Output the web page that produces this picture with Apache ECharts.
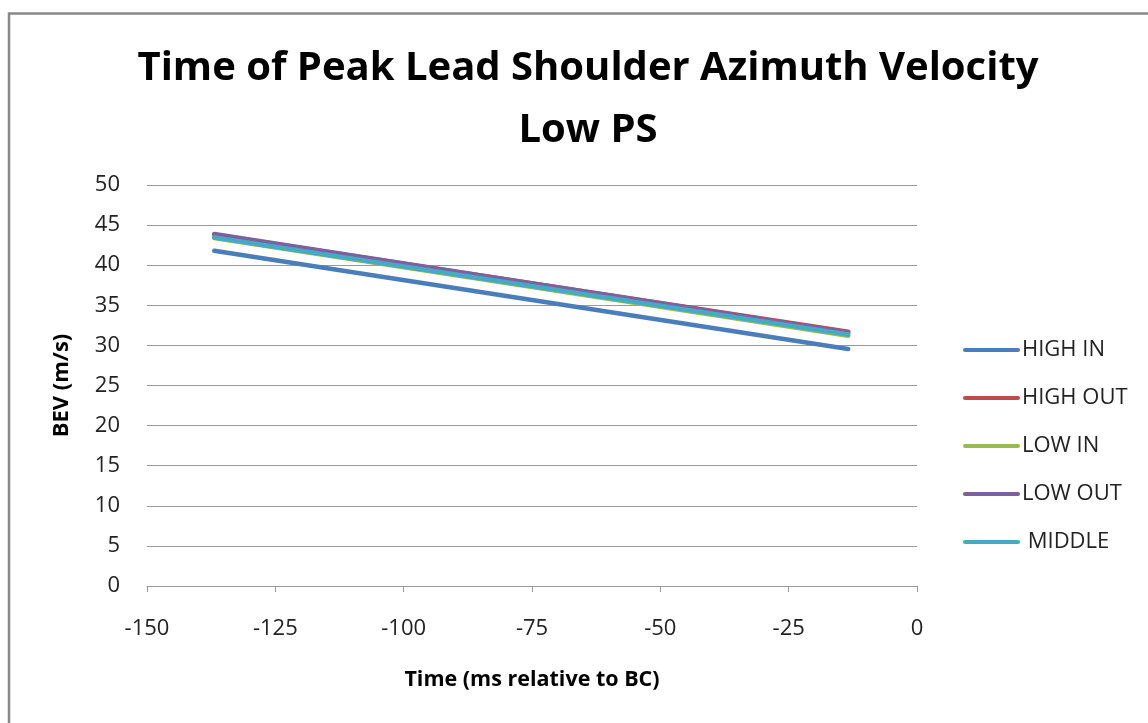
<!DOCTYPE html>
<html><head><meta charset="utf-8">
<script src="https://cdn.jsdelivr.net/npm/echarts@6/dist/echarts.min.js"></script>
<style>html,body{margin:0;padding:0;background:#fff}#c{width:1148px;height:723px}</style>
</head><body><div id="c"></div>
<script>
const seriesNames = ['HIGH IN', 'HIGH OUT', 'LOW IN', 'LOW OUT', 'MIDDLE'];
const timeValues = [-136.9, -13.4];
const highIn = [41.8, 29.55];
const highOut = [43.8, 31.7];
const lowIn = [43.4, 31.2];
const lowOut = [43.9, 31.6];
const middle = [43.45, 31.35];
const colors = ['#4A7EBB', '#BE4B48', '#98B954', '#7D60A0', '#46AAC5'];
const allValues = [highIn, highOut, lowIn, lowOut, middle];
const xTicks = [-150, -125, -100, -75, -50, -25, 0];
const yTicks = [0, 5, 10, 15, 20, 25, 30, 35, 40, 45, 50];

const font = "'Open Sans', 'Liberation Sans', sans-serif";
const chart = echarts.init(document.getElementById('c'));
chart.setOption({
  backgroundColor: '#fff',
  animation: false,
  color: colors,
  title: {
    text: 'Time of Peak Lead Shoulder Azimuth Velocity\nLow PS',
    left: 583, top: 33, textAlign: 'center',
    textStyle: { fontFamily: font, fontWeight: 'bold', fontSize: 40, lineHeight: 62, color: '#000' }
  },
  graphic: [{
    type: 'rect', shape: { x: 9, y: 13.5, width: 1160, height: 730 },
    style: { fill: null, stroke: '#888', lineWidth: 2.5 }, silent: true, z: -1
  }],
  legend: {
    orient: 'vertical', left: 958, top: 334, itemGap: 26,
    itemWidth: 57, itemHeight: 22,
    icon: 'path://M2,9 L55,9 A2,2 0 0 1 55,13 L2,13 A2,2 0 0 1 2,9 Z',
    textStyle: { fontFamily: font, fontSize: 22, lineHeight: 22, color: '#222', padding: [0, 0, 0, -3] },
    formatter: n => n === 'MIDDLE' ? ' MIDDLE' : n,
    data: seriesNames
  },
  grid: { left: 147, right: 231, top: 185, bottom: 137 },
  xAxis: {
    type: 'value', min: -150, max: 0, interval: 25,
    name: 'Time (ms relative to BC)', nameLocation: 'middle', nameGap: 83,
    nameTextStyle: { fontFamily: font, fontWeight: 'bold', fontSize: 21.5, color: '#000' },
    axisLine: { show: true, onZero: false, lineStyle: { color: '#999', width: 1 } },
    axisTick: { show: true, length: 6, inside: false, lineStyle: { color: '#999' } },
    axisLabel: { fontFamily: font, fontSize: 22, color: '#222', margin: 32,
      formatter: v => xTicks.includes(v) ? String(v) : '' },
    splitLine: { show: false }
  },
  yAxis: {
    type: 'value', min: 0, max: 50, interval: 5,
    name: 'BEV (m/s)', nameLocation: 'middle', nameGap: 74, nameRotate: 90,
    nameTextStyle: { fontFamily: font, fontWeight: 'bold', fontSize: 22, color: '#000' },
    axisLine: { show: false }, axisTick: { show: false },
    axisLabel: { fontFamily: font, fontSize: 22, color: '#222', margin: 27,
      formatter: v => yTicks.includes(v) ? String(v) : '' },
    splitLine: { show: true, lineStyle: { color: '#999', width: 1 } }
  },
  series: seriesNames.map((n, i) => ({
    name: n, type: 'line', symbol: 'none', smooth: false,
    data: timeValues.map((t, j) => [t, allValues[i][j]]),
    lineStyle: { width: 4.5, color: colors[i], cap: 'round' },
    itemStyle: { color: colors[i] }
  }))
});
</script></body></html>
